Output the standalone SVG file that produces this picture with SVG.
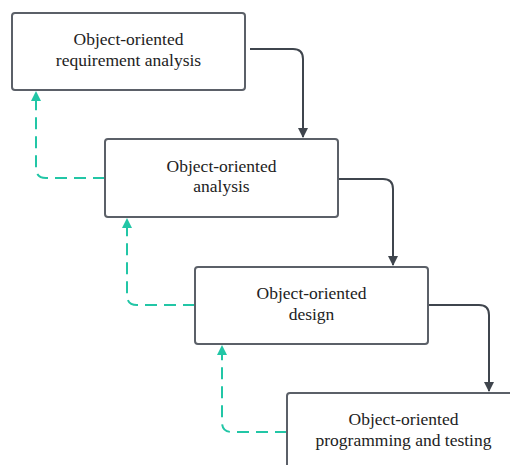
<svg xmlns="http://www.w3.org/2000/svg" width="510" height="465" viewBox="0 0 510 465">
<defs>
<style>
.box{fill:#ffffff;stroke:#5b6068;stroke-width:2}
.lbl{font-family:"Liberation Serif","Times New Roman",serif;font-size:17.5px;fill:#222222;text-anchor:middle}
.flow{fill:none;stroke:#3f454d;stroke-width:2}
.back{fill:none;stroke:#22c6a6;stroke-width:2;stroke-dasharray:12 7}
</style>
<marker id="ah" viewBox="0 0 10 10" refX="9" refY="5" markerWidth="5" markerHeight="5" markerUnits="strokeWidth" orient="auto">
<path d="M0,0 L10,5 L0,10 z" fill="#3f454d"/>
</marker>
<marker id="gh" viewBox="0 0 10 10" refX="9" refY="5" markerWidth="5" markerHeight="5" markerUnits="strokeWidth" orient="auto">
<path d="M0,0 L10,5 L0,10 z" fill="#22c6a6"/>
</marker>
</defs>
<rect width="510" height="465" fill="#ffffff"/>
<g id="connectors">
<path class="flow" d="M250,49 H293 Q303,49 303,59 V137" marker-end="url(#ah)"/>
<path class="flow" d="M339,179 H383 Q393,179 393,189 V265" marker-end="url(#ah)"/>
<path class="flow" d="M429,305 H479 Q489,305 489,315 V391" marker-end="url(#ah)"/>
<path class="back" d="M105,178 H46 Q36,178 36,168 V92" marker-end="url(#gh)"/>
<path class="back" d="M195,305 H137 Q127,305 127,295 V219" marker-end="url(#gh)"/>
<path class="back" d="M287,432 H232 Q222,432 222,422 V346" marker-end="url(#gh)"/>
</g>
<g id="node1">
<rect class="box" x="12" y="13" width="233" height="77" rx="3"/>
<text class="lbl" x="128.5" y="45">Object-oriented</text>
<text class="lbl" x="128.5" y="65.5">requirement analysis</text>
</g>
<g id="node2">
<rect class="box" x="105" y="139" width="233" height="78" rx="3"/>
<text class="lbl" x="221.5" y="171.5">Object-oriented</text>
<text class="lbl" x="221.5" y="192">analysis</text>
</g>
<g id="node3">
<rect class="box" x="195" y="267" width="233" height="77" rx="3"/>
<text class="lbl" x="311.5" y="299">Object-oriented</text>
<text class="lbl" x="311.5" y="319.5">design</text>
</g>
<g id="node4">
<rect class="box" x="287" y="393" width="233" height="77" rx="3"/>
<text class="lbl" x="403.5" y="425">Object-oriented</text>
<text class="lbl" x="403.5" y="445.5">programming and testing</text>
</g>
</svg>
